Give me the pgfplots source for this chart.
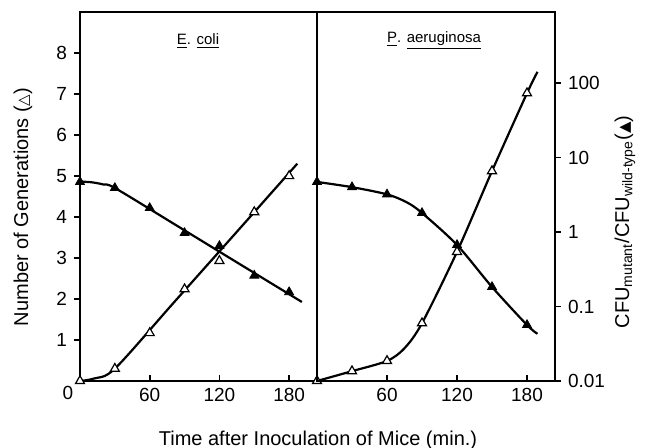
\documentclass[border=0pt]{standalone}
\usepackage{pgfplots}
\pgfplotsset{compat=1.18}
\usepackage{fontspec}
\setmainfont{Liberation Sans}
\newfontfamily\dejavu{DejaVu Sans}
\begin{document}
\begin{tikzpicture}[x=0.5pt,y=0.5pt]
\path[use as bounding box] (0,0) rectangle (652,448);
\pgfplotsset{
  panel/.style={scale only axis, anchor=south west, height=184.5pt, xmin=0, xmax=204, clip=false,
    axis line style={line width=1.2pt}, every tick/.style={line width=0.9pt, black},
    major tick length=3pt, /pgf/number format/assume math mode=true,
    tick label style={font=\fontsize{9.5}{11}\selectfont},
    xtick={60,120,180}, xtick pos=left, xtick align=inside},
  curve/.style={line width=1.1pt, black, smooth, tension=0.5},
  openm/.style={only marks, mark=triangle*, mark size=2.6pt, mark options={fill=white, draw=black, line width=0.6pt}},
  fillm/.style={only marks, mark=triangle*, mark size=2.6pt, mark options={fill=black, draw=black}},
}
% ---- E. coli: generations (linear)
\begin{axis}[panel, at={(40pt,33.5pt)}, width=118.5pt, ymin=0, ymax=9,
  ytick={1,2,3,4,5,6,7,8}, ytick pos=left, ytick align=outside]
\addplot[curve] coordinates {(0,0)(12,0.06)(30,0.3)(80,1.89)(130,3.48)(187,5.3)};
\addplot[openm] coordinates {(0,0)(30,0.3)(60,1.17)(90,2.24)(120,2.93)(150,4.12)(180,5.0)};
\end{axis}
% ---- E. coli: CFU ratio (log)
\begin{axis}[panel, at={(40pt,33.5pt)}, width=118.5pt, ymode=log, ymin=0.01, ymax=898,
  axis lines=none, ticks=none]
\addplot[curve] coordinates {(0,4.75)(10,4.65)(20,4.35)(30,3.9)(80,1.31)(130,0.437)(191,0.115)};
\addplot[fillm] coordinates {(0,4.7)(30,3.9)(60,2.1)(90,0.97)(120,0.65)(150,0.26)(180,0.156)};
\end{axis}
% ---- P. aeruginosa: generations (linear)
\begin{axis}[panel, at={(158.5pt,33.5pt)}, width=119pt, ymin=0, ymax=9, ytick=\empty]
\addplot[curve] coordinates {(0,0)(30,0.24)(60,0.49)(75,0.8)(90,1.41)(120,3.15)(150,5.12)(180,7.02)(189,7.54)};
\addplot[openm] coordinates {(0,0)(30,0.24)(60,0.49)(90,1.41)(120,3.15)(150,5.12)(180,7.02)};
\end{axis}
% ---- P. aeruginosa: CFU ratio (log)
\begin{axis}[panel, at={(158.5pt,33.5pt)}, width=119pt, ymode=log, ymin=0.01, ymax=898,
  xtick=\empty, ytick={0.01,0.1,1,10,100}, yminorticks=false, log ticks with fixed point,
  ytick pos=right, ytick align=outside]
\addplot[curve] coordinates {(0,4.7)(30,4.0)(60,3.2)(77,2.5)(90,1.8)(120,0.67)(150,0.183)(180,0.0565)(189,0.043)};
\addplot[fillm] coordinates {(0,4.7)(30,4.0)(60,3.2)(90,1.8)(120,0.67)(150,0.183)(180,0.0565)};
\end{axis}
\node[font=\fontsize{9.5}{11}\selectfont] at (68,55) {0};
\node[font=\fontsize{7.5}{9}\selectfont] at (198,407) {\underline{E}. \underline{coli}};
\node[font=\fontsize{7.5}{9}\selectfont] at (434,407) {\underline{P}. \underline{aeruginosa}};
\node[rotate=90, font=\fontsize{10}{12}\selectfont] at (23,241) {Number of Generations ({\dejavu\fontsize{7.5}{9}\selectfont △})};
\node[rotate=90, font=\fontsize{10}{12}\selectfont] at (625,226) {CFU\textsubscript{mutant}/CFU\textsubscript{wild-type}({\dejavu\fontsize{7.5}{9}\selectfont ▲})};
\node[font=\fontsize{10}{12}\selectfont] at (318,8) {Time after Inoculation of Mice (min.)};
\end{tikzpicture}
\end{document}
